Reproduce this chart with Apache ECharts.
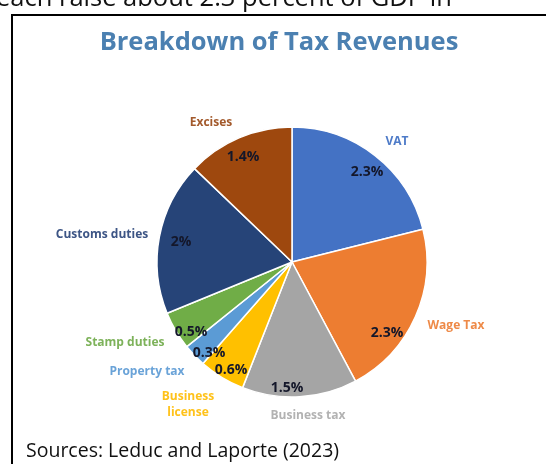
<!DOCTYPE html>
<html>
<head>
<meta charset="utf-8">
<script src="https://cdn.jsdelivr.net/npm/echarts@6/dist/echarts.min.js"></script>
<style>
html,body{margin:0;padding:0;background:#fff;}
#chart{width:546px;height:464px;}
</style>
</head>
<body>
<div id="chart"></div>
<script>
// ---- data ----
const categories = ['VAT', 'Wage Tax', 'Business tax', 'Business\nlicense', 'Property tax', 'Stamp duties', 'Customs duties', 'Excises'];
const values = [2.3, 2.3, 1.5, 0.6, 0.3, 0.5, 2, 1.4];
const valueLabels = ['2.3%', '2.3%', '1.5%', '0.6%', '0.3%', '0.5%', '2%', '1.4%'];

// ---- styles ----
const sliceColors = ['#4472C4', '#ED7D31', '#A5A5A5', '#FFC000', '#5B9BD5', '#70AD47', '#264478', '#9E480E'];
const nameColors = ['#4E7BC8', '#EE8A48', '#B2B2B2', '#FFC21A', '#6AA3D8', '#7DB25A', '#3D5585', '#A35A2C'];
const namePos = [[397,142],[456,326],[308,416],[188,405],[147,372],[125,343],[102,235],[211,123]];
const valuePos = [[367,172],[387,333],[287,388],[231,370],[209,353],[191,332],[181,242],[243,157]];

const chart = echarts.init(document.getElementById('chart'), null, {renderer: 'canvas'});

const pieData = categories.map((c, i) => ({
  name: c, value: values[i],
  itemStyle: {color: sliceColors[i]},
  label: {color: nameColors[i]}
}));
const valData = categories.map((c, i) => ({
  name: c, value: values[i], label: {formatter: valueLabels[i]}
}));

chart.setOption({
  animation: false,
  graphic: [
    {type: 'rect', shape: {x: 12, y: 15, width: 700, height: 600}, style: {fill: 'none', stroke: '#000', lineWidth: 2}, silent: true},
    {type: 'text', x: -4, y: -1, style: {text: 'each raise about 2.3 percent of GDP in', font: '25.5px "Open Sans"', fill: '#111', verticalAlign: 'middle'}},
    {type: 'text', x: 279, y: 43, style: {text: 'Breakdown of Tax Revenues', font: 'bold 25.5px "Open Sans"', fill: '#4B80B1', align: 'center', verticalAlign: 'middle'}},
    {type: 'text', x: 26, y: 451, style: {text: 'Sources: Leduc and Laporte (2023)', font: '19.5px "Open Sans"', fill: '#111', verticalAlign: 'middle'}}
  ],
  series: [
    {
      type: 'pie',
      center: [292, 262],
      radius: [0, 135],
      startAngle: 90,
      clockwise: true,
      avoidLabelOverlap: false,
      data: pieData,
      itemStyle: {borderColor: '#fff', borderWidth: 1.5},
      label: {show: true, position: 'outside', fontFamily: 'Open Sans', fontWeight: 'bold', fontSize: 12, lineHeight: 16, align: 'center'},
      labelLine: {show: false},
      labelLayout: function (p) {
        const q = namePos[p.dataIndex];
        return {x: q[0], y: q[1], align: 'center', verticalAlign: 'middle'};
      },
      silent: true
    },
    {
      type: 'pie',
      center: [292, 262],
      radius: [0, 135],
      startAngle: 90,
      clockwise: true,
      avoidLabelOverlap: false,
      data: valData,
      itemStyle: {color: 'transparent', borderWidth: 0},
      label: {show: true, position: 'inside', fontFamily: 'Open Sans', fontWeight: 'bold', fontSize: 14, color: '#14172A'},
      labelLine: {show: false},
      labelLayout: function (p) {
        const q = valuePos[p.dataIndex];
        return {x: q[0], y: q[1], align: 'center', verticalAlign: 'middle'};
      },
      silent: true
    }
  ]
});
</script>
</body>
</html>
